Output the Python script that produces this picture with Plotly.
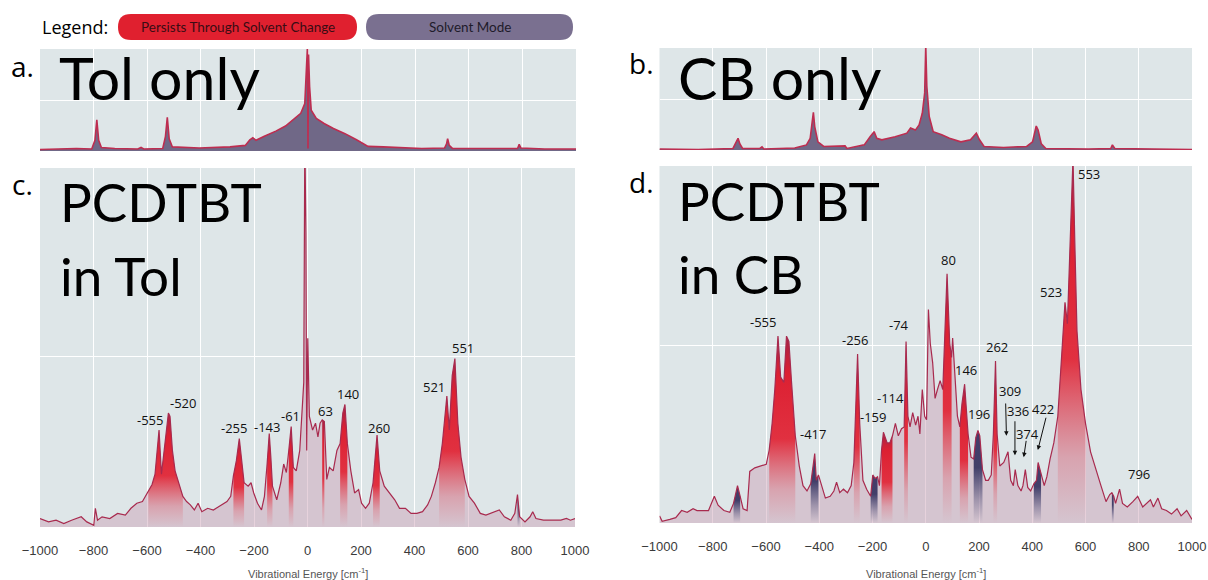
import plotly.graph_objects as go

W, H = 1208, 580

# ---------------- spectra ----------------
# a. toluene only
tol_x = [-1000, -864, -807, -795, -788, -781, -771, -721, -635, -623, -613, -542, -532, -525, -518, -506,
         -406, -291, -234, -217, -206, -194, -163, -120, -84, -55, -27, -12, -5, -2, 0, 2, 6, 12, 31, 60,
         95, 138, 181, 210, 224, 281, 346, 424, 510, 517, 521, 527, 539, 682, 782, 788, 794, 883, 1000]
tol_y = [0.03, 0.05, 0.04, 0.21, 0.61, 0.21, 0.07, 0.05, 0.04, 0.07, 0.04, 0.05, 0.28, 0.66, 0.24, 0.08,
         0.06, 0.08, 0.11, 0.22, 0.26, 0.21, 0.29, 0.39, 0.49, 0.62, 0.74, 0.93, 1.66, 2.05, 0.05, 1.89, 1.26, 0.80, 0.64, 0.54,
         0.44, 0.34, 0.22, 0.13, 0.09, 0.08, 0.07, 0.05, 0.06, 0.14, 0.24, 0.11, 0.05, 0.05, 0.05, 0.13, 0.06, 0.04, 0.04]

# b. chlorobenzene only
cb_x = [-1000, -855, -724, -713, -705, -698, -688, -623, -615, -608, -492, -448, -434, -427, -422, -417,
        -405, -383, -318, -303, -296, -231, -209, -194, -184, -165, -115, -71, -57, -39, -25, -13, -4, 0,
        4, 13, 28, 45, 60, 89, 132, 168, 179, 190, 202, 219, 292, 379, 401, 415, 422, 434, 451, 611, 695,
        701, 710, 1000]
cb_y = [0.02, 0.01, 0.03, 0.13, 0.23, 0.12, 0.03, 0.03, 0.06, 0.02, 0.04, 0.10, 0.23, 0.53, 0.74, 0.46,
        0.16, 0.07, 0.07, 0.08, 0.03, 0.10, 0.26, 0.36, 0.23, 0.20, 0.26, 0.33, 0.43, 0.39, 0.49, 0.72, 1.12, 2.05,
        1.25, 0.66, 0.36, 0.33, 0.30, 0.23, 0.16, 0.20, 0.26, 0.33, 0.20, 0.07, 0.05, 0.07, 0.16, 0.47, 0.39, 0.12, 0.03, 0.02, 0.03,
        0.10, 0.03, 0.01]

# c. PCDTBT in toluene
pt_x = [-1000, -968, -940, -911, -882, -846, -825, -799, -793, -785, -768, -739, -710, -681, -660, -638,
        -617, -595, -581, -570, -555, -546, -536, -520, -514, -505, -495, -481, -466, -452, -438, -423,
        -409, -395, -373, -352, -323, -301, -287, -277, -266, -255, -246, -237, -222, -211, -201, -187,
        -172, -161, -151, -143, -137, -131, -115, -100, -89, -79, -70, -61, -53, -42, -29, -22, -14, -10,
        -6, -3, 1, 7, 19, 30, 39, 47, 55, 63, 72, 82, 96, 110, 122, 132, 140, 149, 162, 176, 191, 202,
        217, 231, 245, 260, 270, 287, 306, 326, 344, 366, 387, 409, 430, 449, 463, 478, 492, 504, 521,
        530, 541, 551, 562, 574, 588, 604, 624, 646, 667, 696, 717, 736, 760, 775, 785, 793, 813, 832,
        842, 854, 882, 918, 947, 968, 983, 1000]
pt_y = [0.05, 0.03, 0.04, 0.02, 0.04, 0.06, 0.03, 0.01, 0.11, 0.04, 0.06, 0.05, 0.08, 0.07, 0.11, 0.14,
        0.15, 0.21, 0.25, 0.31, 0.57, 0.31, 0.45, 0.67, 0.65, 0.45, 0.33, 0.25, 0.18, 0.15, 0.13, 0.10,
        0.14, 0.09, 0.11, 0.10, 0.13, 0.15, 0.18, 0.30, 0.39, 0.52, 0.39, 0.26, 0.24, 0.26, 0.20, 0.14,
        0.10, 0.18, 0.37, 0.55, 0.41, 0.24, 0.16, 0.26, 0.37, 0.32, 0.45, 0.59, 0.35, 0.33, 0.45, 0.61, 0.85, 2.3,
        1.73, 0.45, 1.11, 0.65, 0.57, 0.61, 0.53, 0.61, 0.63, 0.62, 0.28, 0.35, 0.33, 0.45, 0.49, 0.67, 0.72, 0.49, 0.33, 0.20, 0.22, 0.14,
        0.11, 0.14, 0.26, 0.54, 0.33, 0.24, 0.20, 0.16, 0.11, 0.11, 0.08, 0.08, 0.09, 0.13, 0.18, 0.26, 0.35, 0.49, 0.77,
        0.57, 0.89, 0.99, 0.61, 0.41, 0.28, 0.18, 0.14, 0.08, 0.07, 0.09, 0.10, 0.06, 0.04, 0.08, 0.19, 0.06, 0.03, 0.06,
        0.09, 0.05, 0.04, 0.04, 0.04, 0.05, 0.04, 0.05]

# d. PCDTBT in chlorobenzene
pc_x = [-1000, -990, -961, -939, -917, -896, -874, -859, -838, -816, -794, -780, -758, -736, -722, -707,
        -697, -686, -671, -661, -642, -620, -599, -588, -577, -567, -555, -545, -533, -523, -514, -504,
        -490, -475, -461, -446, -432, -417, -411, -403, -391, -377, -359, -345, -335, -323, -309, -294,
        -280, -270, -256, -248, -236, -222, -207, -199, -190, -181, -174, -166, -159, -145, -135, -125,
        -114, -103, -91, -81, -74, -67, -59, -49, -38, -29, -22, -13, -4, 3, 10, 17, 26, 35, 44, 54, 64,
        71, 80, 90, 97, 101, 109, 119, 128, 136, 146, 152, 159, 170, 180, 188, 196, 203, 213, 225, 235,
        246, 254, 262, 268, 278, 293, 309, 319, 329, 336, 346, 358, 365, 374, 383, 394, 406, 416, 422,
        433, 445, 455, 467, 481, 496, 510, 523, 532, 542, 553, 560, 568, 583, 600, 619, 641, 658, 677,
        691, 699, 706, 713, 728, 739, 757, 778, 796, 815, 829, 844, 855, 872, 886, 904, 923, 944, 959,
        980, 1000]
pc_y = [0.04, 0.01, 0.02, 0.03, 0.07, 0.06, 0.08, 0.07, 0.07, 0.07, 0.15, 0.10, 0.07, 0.06, 0.11, 0.21,
        0.15, 0.08, 0.07, 0.29, 0.31, 0.32, 0.33, 0.41, 0.56, 0.75, 1.05, 0.82, 0.79, 1.05, 1.02, 0.79,
        0.49, 0.32, 0.21, 0.18, 0.22, 0.39, 0.24, 0.27, 0.21, 0.14, 0.15, 0.18, 0.23, 0.17, 0.19, 0.17,
        0.21, 0.34, 0.95, 0.56, 0.24, 0.19, 0.15, 0.27, 0.25, 0.26, 0.21, 0.41, 0.51, 0.45, 0.45, 0.49,
        0.56, 0.49, 0.53, 0.54, 1.02, 0.60, 0.54, 0.62, 0.55, 0.60, 0.50, 0.75, 0.60, 0.58, 1.20, 1.01, 0.90, 0.70, 0.75, 0.80, 0.75,
        1.05, 1.40, 1.01, 0.93, 1.04, 0.82, 0.60, 0.54, 0.67, 0.78, 0.67, 0.50, 0.37, 0.36, 0.48, 0.52, 0.49, 0.30, 0.24, 0.24,
        0.27, 0.50, 0.91, 0.50, 0.32, 0.34, 0.40, 0.24, 0.21, 0.30, 0.21, 0.18, 0.21, 0.30, 0.20, 0.18, 0.22, 0.24, 0.34,
        0.28, 0.21, 0.26, 0.36, 0.45, 0.60, 0.93, 1.24, 1.12, 1.53, 2.05, 1.57, 1.08, 0.75, 0.56, 0.40, 0.30, 0.21, 0.12,
        0.16, 0.17, 0.15, 0.11, 0.19, 0.11, 0.09, 0.12, 0.15, 0.09, 0.11, 0.13, 0.09, 0.14, 0.08, 0.07, 0.05, 0.08, 0.04,
        0.07, 0.02]

# highlighted mode bands [lo, hi] in cm^-1
pt_persist = [(-595, -466), (-280, -235), (-160, -130), (-72, -52), (50, 70), (118, 158), (245, 285), (490, 600)]
pt_solvent = [(-798, -786), (778, 793)]
pc_persist = [(-590, -490), (-272, -238), (-168, -118), (-84, -62), (64, 97), (128, 162), (250, 272), (490, 600)]
pc_solvent = [(-725, -690), (-435, -403), (-210, -175), (175, 215), (405, 440), (693, 712)]

# peak labels
pt_lab = ["-555", "-520", "-255", "-143", "-61", "63", "140", "260", "521", "551"]
pt_lab_x = [-588, -466, -273, -150, -65, 66, 153, 269, 474, 581]
pt_lab_y = [0.63, 0.73, 0.58, 0.59, 0.65, 0.68, 0.78, 0.58, 0.82, 1.05]

pc_lab = ["-555", "-417", "-256", "-159", "-114", "-74", "80", "146", "196", "262", "523", "553", "796"]
pc_lab_x = [-610, -423, -264, -200, -133, -101, 87, 153, 199, 268, 469, 613, 800]
pc_lab_y = [1.13, 0.50, 1.03, 0.595, 0.70, 1.11, 1.48, 0.86, 0.61, 0.99, 1.30, 1.96, 0.275]

# arrow-labelled weak modes: label, label centre, arrow tail, arrow head
pc_arr_lab = ["309", "336", "374", "422"]
pc_arr_lab_x = [315, 346, 384, 440]
pc_arr_lab_y = [0.74, 0.63, 0.50, 0.64]
pc_arr_x0 = [300, 335, 378, 453]
pc_arr_y0 = [0.68, 0.58, 0.47, 0.60]
pc_arr_x1 = [303, 335, 368, 421]
pc_arr_y1 = [0.49, 0.38, 0.37, 0.41]

xticks = list(range(-1000, 1001, 200))

# ---------------- styling ----------------
BG = "rgb(222,230,232)"
LINE = "rgb(168,42,78)"
BASE_FILL = "rgba(205,160,180,0.47)"
SOLV_FILL = "rgb(112,104,135)"
RED_SCALE = [[0, "rgba(226,60,75,0)"], [0.18, "rgba(226,60,75,0.25)"], [0.45, "rgba(226,32,48,0.9)"],
             [0.8, "rgb(220,32,50)"], [1, "rgb(165,35,68)"]]
NAVY_SCALE = [[0, "rgba(60,58,105,0)"], [0.25, "rgba(60,58,105,0.35)"], [0.6, "rgba(58,56,100,0.95)"],
              [1, "rgb(70,60,105)"]]


def px_dom_x(a, b):
    return [a / W, b / W]


def px_dom_y(top, bottom):
    return [1 - bottom / H, 1 - top / H]


fig = go.Figure()

# top panels: neat solvent spectra
for xs, ys, ax in [(tol_x, tol_y, "1"), (cb_x, cb_y, "2")]:
    fig.add_trace(go.Scatter(x=xs, y=ys, mode="lines", fill="tozeroy", fillcolor=SOLV_FILL,
                             line=dict(color="rgb(190,45,80)", width=1.6),
                             xaxis="x" + ax, yaxis="y" + ax, hoverinfo="skip"))


def segment(xs, ys, lo, hi):
    sx, sy = [], []
    for x, y in zip(xs, ys):
        if lo <= x <= hi:
            sx.append(x)
            sy.append(y)
    return sx, sy


# bottom panels: polymer solutions
for xs, ys, ax, persist, solvent in [(pt_x, pt_y, "3", pt_persist, pt_solvent),
                                     (pc_x, pc_y, "4", pc_persist, pc_solvent)]:
    fig.add_trace(go.Scatter(x=xs, y=ys, mode="lines", fill="tozeroy", fillcolor=BASE_FILL,
                             line=dict(width=0), xaxis="x" + ax, yaxis="y" + ax, hoverinfo="skip"))
    for bands, scale in [(persist, RED_SCALE), (solvent, NAVY_SCALE)]:
        for lo, hi in bands:
            sx, sy = segment(xs, ys, lo, hi)
            top = max(sy)
            fig.add_trace(go.Scatter(x=sx, y=sy, mode="lines", fill="tozeroy", line=dict(width=0),
                                     fillgradient=dict(type="vertical", colorscale=scale, start=0, stop=top),
                                     xaxis="x" + ax, yaxis="y" + ax, hoverinfo="skip"))
    fig.add_trace(go.Scatter(x=xs, y=ys, mode="lines", line=dict(color=LINE, width=1.2),
                             xaxis="x" + ax, yaxis="y" + ax, hoverinfo="skip"))

# axes
panels = {
    "1": (px_dom_x(40, 576), px_dom_y(49, 151), 2.0, False),
    "2": (px_dom_x(659.5, 1192), px_dom_y(48, 150), 2.0, False),
    "3": (px_dom_x(40, 575), px_dom_y(168, 527), 2.11, True),
    "4": (px_dom_x(659.5, 1192), px_dom_y(166, 523), 2.006, True),
}
layout = dict(width=W, height=H, margin=dict(l=0, r=0, t=0, b=0, pad=0), showlegend=False,
              paper_bgcolor="white", plot_bgcolor=BG)
for k, (dx, dy, ymax, labels) in panels.items():
    sfx = "" if k == "1" else k
    layout["xaxis" + sfx] = dict(domain=dx, range=[-1000, 1000], tickvals=xticks, showgrid=True,
                                 gridcolor="white", gridwidth=1.3, zeroline=False, showline=False,
                                 showticklabels=labels, ticks="outside" if labels else "", ticklen=11,
                                 tickcolor="rgba(0,0,0,0)", automargin=False,
                                 tickfont=dict(family="Liberation Sans", size=13, color="#3a3a3a"),
                                 anchor="y" + k)
    layout["yaxis" + sfx] = dict(domain=dy, range=[0, ymax], tickvals=[1], showgrid=True, gridcolor="white",
                                 gridwidth=1.3, zeroline=False, showline=False, showticklabels=False,
                                 automargin=False, anchor="x" + k)
fig.update_layout(**layout)

ann = []
# peak labels
for labs, lx, ly, ax in [(pt_lab, pt_lab_x, pt_lab_y, "3"), (pc_lab, pc_lab_x, pc_lab_y, "4"),
                         (pc_arr_lab, pc_arr_lab_x, pc_arr_lab_y, "4")]:
    for t, x, y in zip(labs, lx, ly):
        ann.append(dict(x=x, y=y, xref="x" + ax, yref="y" + ax, text=t, showarrow=False,
                        font=dict(family="Open Sans", size=13, color="#111")))
for x0, y0, x1, y1 in zip(pc_arr_x0, pc_arr_y0, pc_arr_x1, pc_arr_y1):
    ann.append(dict(x=x1, y=y1, ax=x0, ay=y0, xref="x4", yref="y4", axref="x4", ayref="y4", text="",
                    showarrow=True, arrowhead=2, arrowsize=0.9, arrowwidth=1, arrowcolor="#111"))


def paper_text(t, px, py, font, xanchor="center"):
    ann.append(dict(x=px / W, y=1 - py / H, xref="paper", yref="paper", text=t, showarrow=False,
                    xanchor=xanchor, yanchor="middle", font=font))


# panel letters
LETTER = dict(family="Open Sans", size=28, color="black")
for t, px, py in [("a.", 22, 66), ("b.", 641, 63), ("c.", 22, 184), ("d.", 641, 182)]:
    paper_text(t, px, py, LETTER)

# panel titles
for t, px, py in [("Tol only", 57, 77), ("CB only", 676, 77)]:
    paper_text(t, px, py, dict(family="Lato", size=59, color="black"), "left")
for t, px, py in [("PCDTBT", 58, 201.5), ("in Tol", 58, 275), ("PCDTBT", 676, 200), ("in CB", 676, 274)]:
    paper_text(t, px, py, dict(family="Lato", size=53, color="black"), "left")

# x-axis titles
for cx in [(40 + 575) / 2, (659.5 + 1192) / 2]:
    paper_text("Vibrational Energy [cm<sup>-1</sup>]", cx, 573,
               dict(family="Liberation Sans", size=11, color="#555"))

# legend
paper_text("Legend:", 40, 27, dict(family="Open Sans", size=18, color="black"), "left")


def pill(x0, y0, x1, y1):
    r = (y1 - y0) / 2
    def X(v):
        return v / W
    def Y(v):
        return 1 - v / H
    return (f"M {X(x0 + r)},{Y(y0)} L {X(x1 - r)},{Y(y0)} Q {X(x1)},{Y(y0)} {X(x1)},{Y(y0 + r)} "
            f"Q {X(x1)},{Y(y1)} {X(x1 - r)},{Y(y1)} L {X(x0 + r)},{Y(y1)} Q {X(x0)},{Y(y1)} {X(x0)},{Y(y1 - r)} "
            f"Q {X(x0)},{Y(y0)} {X(x0 + r)},{Y(y0)} Z")


shapes = [
    dict(type="path", xref="paper", yref="paper", path=pill(118, 14, 357, 40),
         fillcolor="rgb(224,32,47)", line=dict(width=0)),
    dict(type="path", xref="paper", yref="paper", path=pill(366, 14, 573, 40),
         fillcolor="rgb(122,112,144)", line=dict(width=0)),
]
paper_text("Persists Through Solvent Change", 237.5, 27, dict(family="Lato", size=13.5, color="#3a0c14"))
paper_text("Solvent Mode", 469.5, 27, dict(family="Lato", size=13.5, color="#1e1b2a"))

fig.update_layout(annotations=ann, shapes=shapes)
fig.write_html("out.html")
